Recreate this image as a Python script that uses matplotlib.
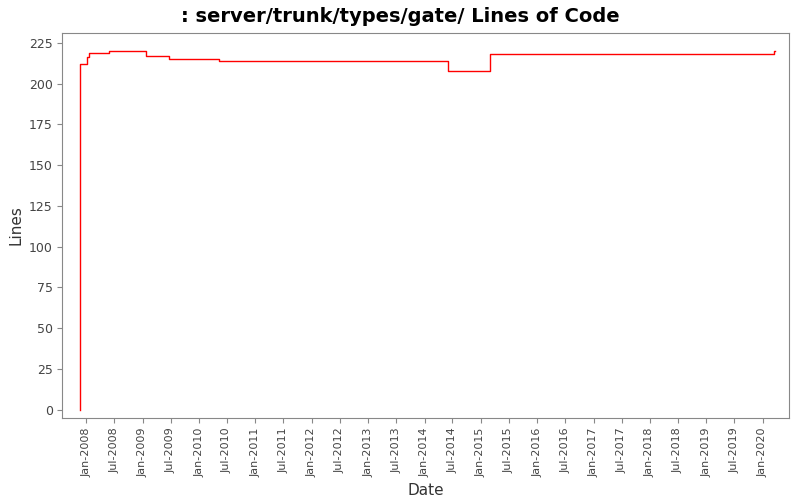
import numpy as np
import pandas as pd
import matplotlib
matplotlib.use("Agg")
import matplotlib.pyplot as plt
import matplotlib.dates as mdates

dates = pd.to_datetime(["2007-11-23", "2007-11-24", "2008-01-07", "2008-01-20", "2008-05-29",
                        "2009-01-20", "2009-06-18", "2010-05-13", "2014-06-03", "2015-03-01",
                        "2020-03-14", "2020-03-20"])
lines = [0, 212, 216, 219, 220, 217, 215, 214, 208, 218, 220, 220]

fig = plt.figure(figsize=(8, 5), dpi=100)
ax = fig.add_axes([0.078, 0.164, 0.908, 0.77])
ax.step(dates, lines, where="post", color="red", linewidth=1)
ax.set_ylim(-5, 231)
ax.set_yticks(range(0, 226, 25))
ax.set_xlim(pd.Timestamp("2007-07-30"), pd.Timestamp("2020-06-19"))
ax.xaxis.set_major_locator(mdates.MonthLocator(bymonth=[1, 7]))
ax.xaxis.set_major_formatter(mdates.DateFormatter("%b-%Y"))
plt.setp(ax.get_xticklabels(), rotation=90, fontsize=8, color="#444444")
plt.setp(ax.get_yticklabels(), fontsize=9, color="#444444")
for s in ax.spines.values():
    s.set_color("#888888")
ax.tick_params(colors="#888888", labelcolor="#444444")
ax.set_xlabel("Date", fontsize=11, color="#333333")
ax.set_ylabel("Lines", fontsize=11, color="#333333")
fig.suptitle(": server/trunk/types/gate/ Lines of Code", fontsize=14, fontweight="bold", y=0.985)
plt.savefig("out.png")
